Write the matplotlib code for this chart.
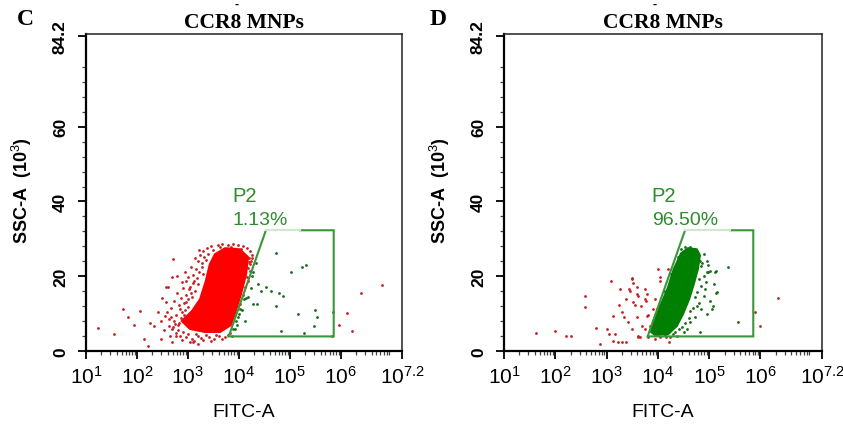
import numpy as np
import matplotlib
matplotlib.use('Agg')
import matplotlib.pyplot as plt
from matplotlib.path import Path
from matplotlib.patches import Polygon
from matplotlib.ticker import FixedLocator, NullFormatter

plt.rcParams['font.family'] = ['Liberation Sans', 'DejaVu Sans']
plt.rcParams['mathtext.fontset'] = 'custom'
plt.rcParams['mathtext.rm'] = 'Liberation Sans'
plt.rcParams['mathtext.it'] = 'Liberation Sans:italic'
plt.rcParams['mathtext.bf'] = 'Liberation Sans:bold'

# ---------------- data ----------------
panel_letters = ['C', 'D']
panel_titles = ['CCR8 MNPs', 'CCR8 MNPs']
gate_name = 'P2'
gate_percents = ['1.13%', '96.50%']

# gate P2 (log10 FITC-A, SSC-A x10^3)
gate_log_fitc = [3.80, 4.53, 5.86, 5.86]
gate_ssc = [3.9, 32.3, 32.3, 3.9]
gate_top_faded_end = [5.20, 5.41]   # faded part of the gate's top edge, per panel

x_tick_exponents = [1, 2, 3, 4, 5, 6, 7.2]
x_tick_labels = ['$10^{1}$', '$10^{2}$', '$10^{3}$', '$10^{4}$', '$10^{5}$', '$10^{6}$', '$10^{7.2}$']
y_ticks = [0, 20, 40, 60, 84.2]
y_tick_labels = ['0', '20', '40', '60', '84.2']

# dense event cores (outline, log10 FITC-A / SSC-A)
core_c_log_fitc = [3.53, 3.73, 4.02, 4.18, 4.14, 4.04, 3.94, 3.84, 3.63, 3.33, 3.04, 2.88, 3.08, 3.24, 3.35, 3.43]
core_c_ssc = [25.9, 27.5, 27.2, 25.1, 20.5, 15.2, 10.7, 6.9, 5.1, 5.1, 5.9, 8.0, 10.7, 13.9, 18.7, 23.2]
core_d_log_fitc = [4.45, 4.59, 4.76, 4.82, 4.78, 4.70, 4.61, 4.49, 4.37, 4.20, 3.94, 3.85, 3.94, 4.08, 4.20, 4.31]
core_d_ssc = [26.1, 27.5, 27.2, 25.6, 21.9, 17.9, 13.9, 9.9, 6.7, 4.5, 4.3, 5.3, 9.1, 13.1, 17.1, 21.9]

# individual events, panel C
events_c_log_fitc = [
    1.23, 1.54, 1.72, 1.82, 1.95, 2.06, 2.13, 2.22, 2.26, 2.34, 2.41, 2.47, 2.47, 2.50, 2.54, 2.57, 2.60, 2.57,
    2.59, 2.63, 2.67, 2.69, 2.69, 2.71, 2.78, 2.76, 2.87, 2.88, 2.97, 2.94, 2.96, 3.03, 3.10, 2.55,
    3.29, 3.37, 3.45, 3.59, 3.67, 3.78, 3.88, 3.98, 4.08, 4.16, 4.22, 4.25, 3.24, 3.31, 3.20, 3.27,
    3.16, 3.10, 3.20, 3.04, 3.14, 2.96, 3.08, 2.92, 3.00, 2.84, 2.76, 2.92, 2.73, 2.80, 2.69, 2.76, 2.84, 2.65,
    2.96, 3.08, 3.20, 3.29, 3.41, 3.51, 3.61, 3.73, 3.82, 3.92, 3.04, 3.20, 3.10,
    4.22, 4.22, 4.18, 4.12, 4.10, 4.02, 3.98, 3.94, 3.88,
    3.40, 3.50, 3.62, 3.85, 4.05, 4.20, 4.24, 3.35, 3.28, 3.22, 3.30, 3.12, 3.18, 3.06, 3.00, 2.95, 2.88,
    2.86, 2.82, 2.74, 2.70, 2.80, 2.90, 2.88, 3.00, 3.12, 3.15, 3.25, 3.35, 3.46, 3.56, 3.66, 3.78, 3.86,
    3.96, 4.00, 4.06, 4.08, 4.15, 4.18, 2.62, 2.66, 2.72, 2.78, 2.82, 2.90, 3.00, 3.06, 3.14, 3.22,
    4.73, 4.26, 4.33, 4.28, 4.38, 4.54, 4.63, 4.79, 4.86, 4.18, 4.28, 4.36, 4.03, 4.12, 4.73, 5.03, 5.23,
    5.31, 5.16, 5.50, 5.54, 5.47, 5.28, 4.82, 5.84, 5.82, 4.14, 4.23, 4.25, 4.20, 4.43,
    5.97, 6.12, 6.21, 6.39, 6.80]
events_c_ssc = [
    6.1, 4.5, 11.2, 9.1, 6.9, 10.7, 3.2, 1.4, 7.5, 6.6, 10.5, 8.1, 3.2, 14.1, 5.7, 17.1, 17.1, 13.0,
    10.3, 6.7, 9.0, 2.5, 19.7, 24.7, 20.1, 4.1, 14.3, 18.4, 18.7, 21.0, 13.0, 16.5, 18.3, 9.4,
    26.7, 27.5, 28.0, 28.3, 28.5, 28.3, 28.5, 28.3, 28.0, 27.5, 26.7, 25.6, 25.6, 25.1, 24.0, 22.4,
    21.9, 20.3, 17.9, 17.1, 16.0, 14.9, 14.4, 12.8, 11.7, 11.2, 9.6, 9.6, 8.0, 6.9, 5.9, 4.8, 4.0, 4.0,
    3.7, 3.2, 4.0, 2.9, 3.7, 3.2, 4.0, 3.7, 4.8, 5.9, 2.4, 1.9, 2.3,
    23.2, 21.3, 18.7, 17.1, 13.9, 12.5, 9.1, 8.0, 5.9,
    26.0, 27.0, 27.8, 27.9, 27.4, 25.0, 24.0, 24.3, 23.5, 21.0, 20.5, 18.8, 19.5, 15.6, 13.8, 11.0, 10.5,
    8.9, 7.6, 7.2, 6.5, 5.5, 5.0, 3.0, 4.5, 2.6, 4.6, 3.4, 4.3, 2.6, 4.4, 3.2, 4.2, 3.9,
    7.0, 9.8, 11.0, 15.0, 19.8, 22.2, 8.5, 11.5, 13.5, 15.5, 12.2, 16.8, 19.8, 22.6, 24.8, 27.0,
    26.3, 25.0, 23.5, 21.1, 17.9, 17.1, 16.1, 15.5, 14.7, 14.5, 12.5, 12.5, 11.2, 8.1, 12.1, 21.0, 22.6,
    23.0, 9.9, 10.9, 9.1, 6.6, 4.9, 5.4, 10.4, 3.9, 14.1, 16.8, 20.1, 23.7, 16.1,
    7.0, 10.1, 5.3, 15.4, 17.6]

# individual events, panel D
events_d_log_fitc = [
    1.62, 1.99, 2.20, 2.30, 2.57, 2.57, 2.79, 2.88, 3.00, 3.05, 3.09, 3.13, 3.13, 3.16, 3.23, 3.25, 3.26, 3.31,
    3.31, 3.34, 3.37, 3.38, 3.41, 3.44, 3.49, 3.51, 3.46, 3.49, 3.52, 3.55, 3.59, 3.59, 3.60, 3.61, 3.62, 3.62,
    3.66, 3.67, 3.70, 3.75, 3.75, 3.75, 3.78, 3.77, 3.78, 3.81, 3.81, 3.85, 3.91, 3.94, 3.94, 4.01, 4.04, 4.05,
    4.20, 3.50,
    4.89, 4.95, 4.85, 5.02, 4.95, 5.11, 5.15, 5.02, 4.92, 4.89, 4.76, 4.85, 4.72, 4.63, 4.56, 4.50, 4.37, 4.24,
    4.04, 3.94, 4.76, 5.37, 5.08, 4.95, 4.46, 4.53, 4.63, 4.70, 4.37, 4.24, 4.11, 4.01, 5.09, 5.06, 4.82, 4.22,
    4.16, 4.97, 4.98, 5.13, 5.13, 5.56, 4.39, 4.26, 4.12, 3.98, 3.88, 4.82, 4.80, 4.72, 4.63, 4.47, 4.33,
    4.86, 4.90, 4.84, 4.80, 4.68, 4.60, 4.52, 4.42, 4.30, 4.14, 4.02, 3.95, 4.00, 4.10, 4.18, 4.30, 4.40,
    4.50, 4.66, 4.94,
    5.89, 5.99, 6.35]
events_d_ssc = [
    4.9, 5.3, 4.0, 4.0, 14.6, 11.7, 6.1, 1.9, 5.9, 4.5, 18.7, 9.3, 2.7, 4.5, 2.3, 12.3, 16.5, 2.3,
    10.5, 9.0, 13.9, 2.5, 7.7, 16.5, 19.2, 18.3, 16.1, 5.9, 13.0, 12.3, 17.0, 15.2, 9.0, 3.7, 14.7, 4.1,
    3.7, 12.1, 6.7, 16.5, 13.9, 5.9, 15.2, 13.4, 9.4, 9.6, 3.7, 6.7, 11.2, 13.9, 9.3, 21.9, 19.7, 18.7,
    21.9, 19.5,
    25.9, 24.1, 22.7, 21.4, 21.0, 21.0, 15.7, 13.4, 16.5, 14.7, 12.1, 11.2, 9.0, 7.7, 5.9, 5.0, 4.1, 3.7,
    3.7, 3.2, 15.7, 22.6, 12.1, 9.9, 27.2, 27.7, 27.7, 27.4, 21.0, 15.7, 12.1, 8.5, 17.9, 11.2, 5.0, 2.3,
    3.7, 23.0, 21.1, 21.3, 15.5, 7.8, 25.1, 20.5, 16.0, 11.2, 7.2, 24.0, 19.2, 14.4, 10.7, 6.4, 5.1,
    23.5, 20.0, 17.5, 12.8, 11.5, 8.8, 7.5, 5.8, 4.6, 4.3, 5.6, 6.5, 4.5, 9.2, 13.8, 18.4, 22.8,
    26.4, 26.0, 18.4,
    10.3, 6.6, 14.1]

panels = [
    dict(core_x=core_c_log_fitc, core_y=core_c_ssc, ev_x=events_c_log_fitc, ev_y=events_c_ssc,
         core_color='#ff0000'),
    dict(core_x=core_d_log_fitc, core_y=core_d_ssc, ev_x=events_d_log_fitc, ev_y=events_d_ssc,
         core_color='#008000'),
]

# ---------------- figure ----------------
fig = plt.figure(figsize=(8.43, 4.27), dpi=100)
axes_rects = [[86 / 843, 1 - 352 / 427, 316 / 843, 317 / 427],
              [504 / 843, 1 - 352 / 427, 318 / 843, 317 / 427]]
gate_green = '#3a963a'
gate_faded = '#cfe8cf'
text_green = '#2e8b2e'

gate_path = Path(np.column_stack([gate_log_fitc + [gate_log_fitc[0]], gate_ssc + [gate_ssc[0]]]))

for i, (rect, p) in enumerate(zip(axes_rects, panels)):
    ax = fig.add_axes(rect)
    ax.set_xscale('log')
    ax.set_xlim(10 ** 1, 10 ** 7.2)
    ax.set_ylim(0, 84.8)

    # dense core
    core_pts = np.column_stack([10 ** np.array(p['core_x']), np.array(p['core_y'])])
    ax.add_patch(Polygon(core_pts, closed=True, facecolor=p['core_color'],
                         edgecolor=p['core_color'], linewidth=1.5, zorder=2))

    # individual events coloured by gate membership
    ex = np.array(p['ev_x'])
    ey = np.array(p['ev_y'])
    inside = gate_path.contains_points(np.column_stack([ex, ey]))
    ax.scatter(10 ** ex[~inside], ey[~inside], s=4.0, color='#c42020', linewidths=0, zorder=3)
    ax.scatter(10 ** ex[inside], ey[inside], s=4.0, color='#1a6b1a', linewidths=0, zorder=3)

    # gate
    gx = [10 ** v for v in gate_log_fitc]
    gy = gate_ssc
    ax.plot([gx[1], gx[0], gx[3], gx[2], 10 ** gate_top_faded_end[i]],
            [gy[1], gy[0], gy[3], gy[2], gy[2]],
            color=gate_green, lw=1.5, zorder=4, solid_joinstyle='miter')
    ax.plot([gx[1], 10 ** gate_top_faded_end[i]], [gy[1], gy[1]],
            color=gate_faded, lw=1.5, zorder=4)

    ax.text(10 ** 3.88, 41.5, gate_name, color=text_green, fontsize=14.5, ha='left', va='center')
    ax.text(10 ** 3.88, 35.3, gate_percents[i], color=text_green, fontsize=14, ha='left', va='center')

    # ticks
    ax.xaxis.set_major_locator(FixedLocator([10 ** e for e in x_tick_exponents]))
    ax.set_xticklabels(x_tick_labels)
    minor = []
    for d in range(1, 7):
        for m in range(2, 10):
            minor.append(m * 10 ** d)
    ax.xaxis.set_minor_locator(FixedLocator(minor))
    ax.xaxis.set_minor_formatter(NullFormatter())
    ax.set_yticks(y_ticks)
    ax.set_yticklabels(y_tick_labels)
    ax.yaxis.set_minor_locator(FixedLocator([v for v in range(4, 84, 4) if v % 20 != 0]))

    ax.tick_params(axis='both', which='major', direction='out', length=6, width=1.3, color='black')
    ax.tick_params(axis='both', which='minor', direction='out', length=3, width=0.9, color='#444444')
    ax.tick_params(axis='x', which='major', labelsize=15, pad=4)
    ax.tick_params(axis='y', which='major', labelsize=12.5, pad=7, labelrotation=90)
    for lab in ax.get_yticklabels():
        lab.set_fontweight('bold')
        lab.set_va('center')

    for side in ['left', 'bottom']:
        ax.spines[side].set_linewidth(1.6)
        ax.spines[side].set_color('black')
    for side in ['top', 'right']:
        ax.spines[side].set_linewidth(1.1)
        ax.spines[side].set_color('#222222')

    ax.set_xlabel('FITC-A', fontsize=14)
    ax.xaxis.set_label_coords(0.5, -0.165)
    ax.set_ylabel('SSC-A  (10$^{3}$)', fontsize=13, fontweight='bold')
    ax.yaxis.set_label_coords(-0.165, 0.51)

    ax.set_title(panel_titles[i], fontsize=15.5, fontweight='bold',
                 family=['Liberation Serif', 'DejaVu Serif'], pad=5)

    lx = 0.030 if i == 0 else 0.520
    fig.text(lx, 0.955, panel_letters[i], fontsize=17, fontweight='bold',
             family=['Liberation Serif', 'DejaVu Serif'], ha='center', va='center')
    mx = 237 / 843 if i == 0 else 655 / 843
    fig.text(mx, 0.988, '-', fontsize=9, fontweight='bold', ha='center', va='center')

fig.savefig('out.png', dpi=100)
